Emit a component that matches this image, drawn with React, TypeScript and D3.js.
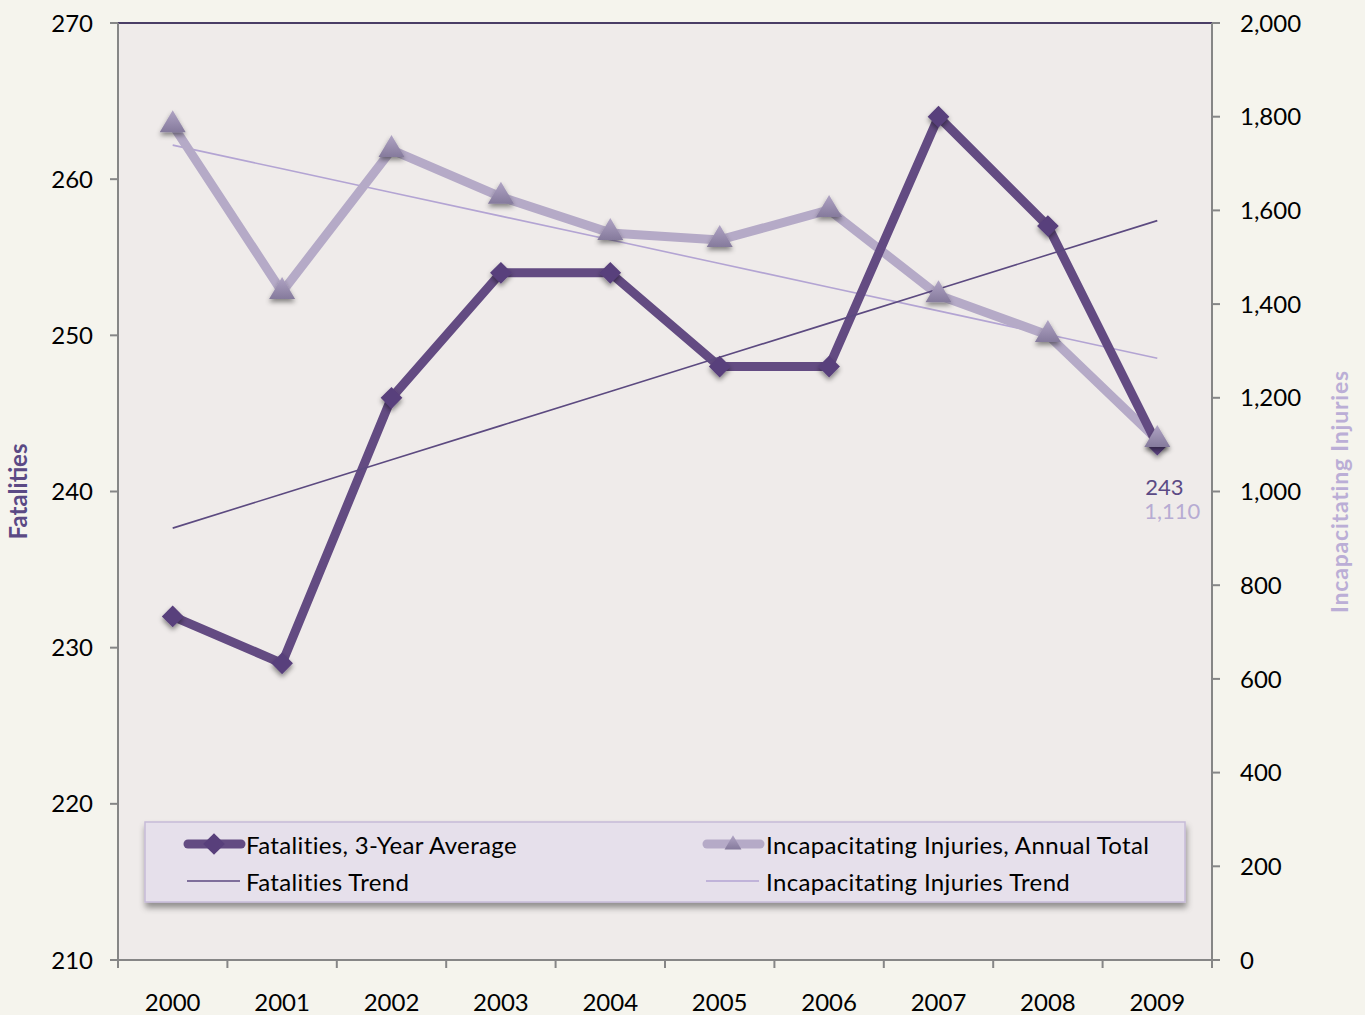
import React from 'react';
import * as d3 from 'd3';

const years = ['2000', '2001', '2002', '2003', '2004', '2005', '2006', '2007', '2008', '2009'];
const fatalities = [232, 229, 246, 254, 254, 248, 248, 264, 257, 243];
const injuries = [1782, 1426, 1729, 1629, 1552, 1537, 1601, 1419, 1334, 1110];
const leftTicks = [210, 220, 230, 240, 250, 260, 270];
const rightTicks = [0, 200, 400, 600, 800, 1000, 1200, 1400, 1600, 1800, 2000];

const W = 1365, H = 1015;
const left = 118, right = 1212, top = 23, bottom = 960;
const FONT = 'Lato, "Open Sans", sans-serif';
const FS = 24;

const C = {
  page: '#f5f4ed',
  plot: '#efebea',
  fat: '#634b82',
  fatMark: '#583f7b',
  inj: '#b5aac7',
  injMark: '#9a8db0',
  fatTrend: '#5c4a80',
  injTrend: '#b3a4d3',
  axis: '#868686',
};

// least squares line through a series, as Excel draws its trendline
function trend(vals: number[]) {
  const xs = vals.map((_, i) => i);
  const mx = d3.mean(xs)!, my = d3.mean(vals)!;
  const sxy = d3.sum(xs, (x, i) => (x - mx) * (vals[i] - my));
  const sxx = d3.sum(xs, x => (x - mx) ** 2);
  const b = sxy / sxx, a = my - b * mx;
  return xs.map(x => a + b * x);
}

const App = () => {
  const x = d3.scaleBand().domain(years).range([left, right]);
  const cx = (i: number) => x(years[i])! + x.bandwidth() / 2;
  const yL = d3.scaleLinear().domain([210, 270]).range([bottom, top]);
  const yR = d3.scaleLinear().domain([0, 2000]).range([bottom, top]);
  const fmt = d3.format(',');

  const fatLine = d3.line<number>().x((_, i) => cx(i)).y(d => yL(d));
  const injLine = d3.line<number>().x((_, i) => cx(i)).y(d => yR(d));
  const fatTrend = trend(fatalities);
  const injTrend = trend(injuries);
  const diamond = d3.symbol().type(d3.symbolDiamond2).size(300)()!;
  const tri = 'M0,-15L13,7L-13,7Z';

  const last = years.length - 1;

  return (
    <svg width={W} height={H} style={{ position: 'absolute', left: 0, top: 0, background: C.page }} fontFamily={FONT}>
      <defs>
        <filter id="sh" x="-50%" y="-50%" width="200%" height="200%">
          <feDropShadow dx="0" dy="3" stdDeviation="2.5" floodColor="#000" floodOpacity="0.45" />
        </filter>
        <filter id="lsh" x="-5%" y="-20%" width="110%" height="150%">
          <feDropShadow dx="1" dy="5" stdDeviation="3" floodColor="#000" floodOpacity="0.4" />
        </filter>
        <linearGradient id="tg" x1="0" y1="0" x2="0" y2="1">
          <stop offset="0" stopColor="#b0a4c4" />
          <stop offset="1" stopColor="#857a9c" />
        </linearGradient>
      </defs>
      <rect x={0} y={0} width={W} height={H} fill={C.page} />
      <rect x={left} y={top} width={right - left} height={bottom - top} fill={C.plot} />
      <line x1={left} x2={right} y1={top} y2={top} stroke="#4a3d66" strokeWidth={2} />

      {/* left axis */}
      <line x1={left} x2={left} y1={top} y2={bottom} stroke={C.axis} strokeWidth={2} />
      {leftTicks.map(t => (
        <g key={t}>
          <line x1={left - 8} x2={left} y1={yL(t)} y2={yL(t)} stroke={C.axis} strokeWidth={2} />
          <text x={93} y={yL(t)} dy="0.36em" textAnchor="end" fontSize={FS} fill="#000">{t}</text>
        </g>
      ))}
      {/* right axis */}
      <line x1={right} x2={right} y1={top} y2={bottom} stroke={C.axis} strokeWidth={2} />
      {rightTicks.map(t => (
        <g key={t}>
          <line x1={right} x2={right + 8} y1={yR(t)} y2={yR(t)} stroke={C.axis} strokeWidth={2} />
          <text x={1240} y={yR(t)} dy="0.36em" textAnchor="start" fontSize={FS} fill="#000">{fmt(t)}</text>
        </g>
      ))}
      {/* bottom axis */}
      <line x1={left - 8} x2={right + 8} y1={bottom} y2={bottom} stroke={C.axis} strokeWidth={2} />
      {years.map((yr, i) => (
        <g key={yr}>
          <line x1={x(yr)!} x2={x(yr)!} y1={bottom} y2={bottom + 8} stroke={C.axis} strokeWidth={2} />
          <text x={cx(i)} y={1002} dy="0.36em" textAnchor="middle" fontSize={FS} fill="#000">{yr}</text>
        </g>
      ))}
      <line x1={right} x2={right} y1={bottom} y2={bottom + 8} stroke={C.axis} strokeWidth={2} />

      {/* axis titles */}
      <text transform={`translate(27,${(top + bottom) / 2}) rotate(-90)`} textAnchor="middle" fontSize={24} fontWeight="bold" fill="#5b4a85">Fatalities</text>
      <text transform={`translate(1348,${(top + bottom) / 2}) rotate(-90)`} textAnchor="middle" fontSize={23} fontWeight="bold" letterSpacing={0.8} fill="#bbaed6">Incapacitating  Injuries</text>

      {/* trends */}
      <path d={injLine(injTrend)!} fill="none" stroke={C.injTrend} strokeWidth={1.6} />

      {/* series */}
      <path d={injLine(injuries)!} fill="none" stroke={C.inj} strokeWidth={9} strokeLinejoin="round" />
      <path d={fatLine(fatalities)!} fill="none" stroke={C.fat} strokeWidth={9} strokeLinejoin="round" />
      <path d={fatLine(fatTrend)!} fill="none" stroke={C.fatTrend} strokeWidth={1.6} />
      {fatalities.map((v, i) => (
        <path key={i} d={diamond} transform={`translate(${cx(i)},${yL(v)})`} fill={C.fatMark} filter="url(#sh)" />
      ))}
      {injuries.map((v, i) => (
        <path key={i} d={tri} transform={`translate(${cx(i)},${yR(v)})`} fill="url(#tg)" filter="url(#sh)" />
      ))}

      {/* end labels */}
      <text x={cx(last) + 7} y={yL(fatalities[last]) + 42} dy="0.36em" textAnchor="middle" fontSize={22} fill="#5b4a85">{fatalities[last]}</text>
      <text x={cx(last) + 15} y={yR(injuries[last]) + 71} dy="0.36em" textAnchor="middle" fontSize={22} fill="#b7acd3">{fmt(injuries[last])}</text>

      {/* legend */}
      <rect x={145} y={822} width={1040} height={80} fill="#e6e0eb" stroke="#c6bbd8" strokeWidth={1.5} filter="url(#lsh)" />
      <g letterSpacing={0.35}>
        <line x1={188} x2={241} y1={844} y2={844} stroke={C.fat} strokeWidth={9} strokeLinecap="round" />
        <path d={diamond} transform="translate(214,844)" fill={C.fatMark} />
        <text x={246} y={845} dy="0.36em" fontSize={FS} fill="#000">Fatalities, 3-Year Average</text>
        <line x1={187} x2={240} y1={881} y2={881} stroke={C.fatTrend} strokeWidth={1.6} />
        <text x={246} y={882} dy="0.36em" fontSize={FS} fill="#000">Fatalities Trend</text>

        <line x1={707} x2={760} y1={844} y2={844} stroke={C.inj} strokeWidth={9} strokeLinecap="round" />
        <path d={tri} transform="translate(733,845) scale(0.65)" fill="url(#tg)" />
        <text x={766} y={845} dy="0.36em" fontSize={FS} fill="#000">Incapacitating Injuries, Annual Total</text>
        <line x1={706} x2={759} y1={881} y2={881} stroke={C.injTrend} strokeWidth={1.6} />
        <text x={766} y={882} dy="0.36em" fontSize={FS} fill="#000">Incapacitating Injuries Trend</text>
      </g>
    </svg>
  );
};

export default App;
